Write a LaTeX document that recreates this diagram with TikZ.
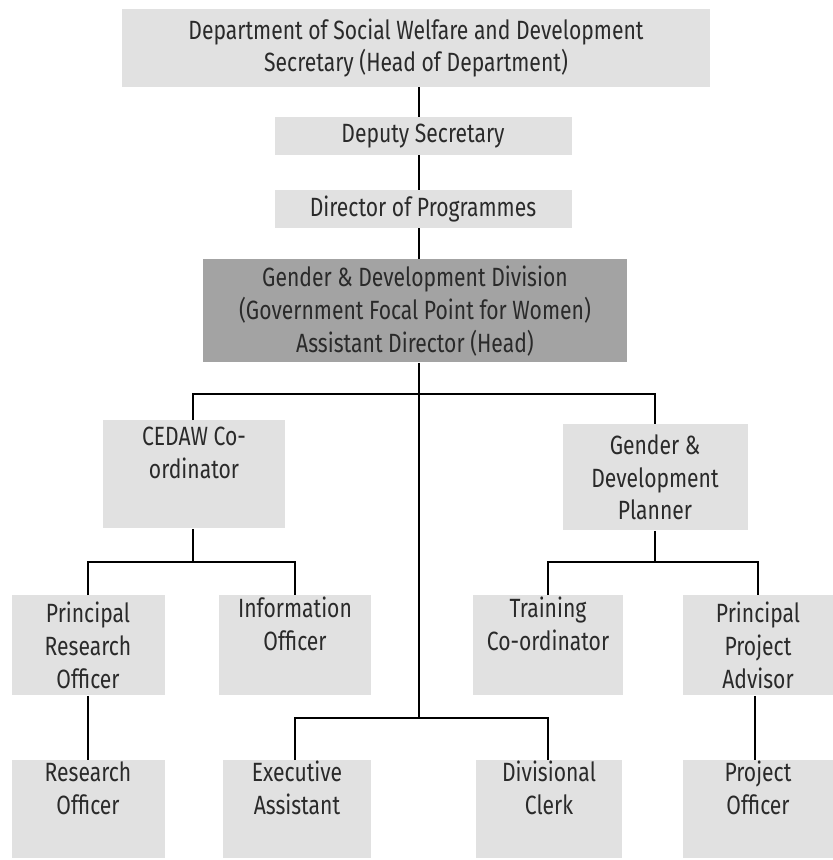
\documentclass[tikz,border=0pt]{standalone}
\usepackage{fontspec}
\setmainfont{Fira Sans}[FakeStretch=0.8]
\definecolor{boxgray}{HTML}{E1E1E1}
\definecolor{darkgray}{HTML}{A3A3A3}
\definecolor{txt}{HTML}{2A2A2A}
\begin{document}
\begin{tikzpicture}[x=0.5pt,y=-0.5pt,
  box/.style={fill=boxgray, draw=none, align=center, inner sep=0pt, text=txt,
    font=\fontsize{13.2}{16.4}\selectfont},
  dbox/.style={box, fill=darkgray},
  conn/.style={draw=black, line width=1pt}]
\useasboundingbox (0,0) rectangle (833,860);
\fill[white] (0,0) rectangle (833,860);
% nodes
\node[box, minimum width=588*0.5pt, minimum height=78*0.5pt] (top) at (416,48)
  {Department of Social Welfare and Development\\Secretary (Head of Department)};
\node[box, minimum width=297*0.5pt, minimum height=38*0.5pt] (dep) at (423,136) {Deputy Secretary};
\node[box, minimum width=297*0.5pt, minimum height=38*0.5pt] (dir) at (423,209) {Director of Programmes};
\node[dbox, minimum width=424*0.5pt, minimum height=103*0.5pt] (gdd) at (415,311)
  {Gender \& Development Division\\(Government Focal Point for Women)\\Assistant Director (Head)};
\node[box, minimum width=182*0.5pt, minimum height=108*0.5pt, anchor=north] (cedaw) at (194,420)
  {CEDAW Co-\\ordinator\\\strut};
\node[box, minimum width=185*0.5pt, minimum height=106*0.5pt, anchor=north] (plan) at (655,424)
  {Gender \&\\Development\\Planner};
\node[box, minimum width=153*0.5pt, minimum height=100*0.5pt, anchor=north] (pro) at (88,595)
  {Principal\\Research\\Officer};
\node[box, minimum width=152*0.5pt, minimum height=100*0.5pt, anchor=north] (io) at (295,595)
  {Information\\Officer\\\strut};
\node[box, minimum width=150*0.5pt, minimum height=100*0.5pt, anchor=north] (tc) at (548,595)
  {Training\\Co-ordinator\\\strut};
\node[box, minimum width=150*0.5pt, minimum height=100*0.5pt, anchor=north] (ppa) at (758,595)
  {Principal\\Project\\Advisor};
\node[box, minimum width=153*0.5pt, minimum height=98*0.5pt, anchor=north] (ro) at (88,760)
  {Research\\Officer\\\strut};
\node[box, minimum width=148*0.5pt, minimum height=98*0.5pt, anchor=north] (ea) at (297,760)
  {Executive\\Assistant\\\strut};
\node[box, minimum width=146*0.5pt, minimum height=98*0.5pt, anchor=north] (dc) at (549,760)
  {Divisional\\Clerk\\\strut};
\node[box, minimum width=150*0.5pt, minimum height=98*0.5pt, anchor=north] (po) at (758,760)
  {Project\\Officer\\\strut};
% junctions
\coordinate (j1) at (419,394);
\coordinate (j2) at (193,562);
\coordinate (j3) at (655,562);
\coordinate (j4) at (419,718);
% connectors
\draw[conn] (top.south -| j1) -- (dep.north -| j1);
\draw[conn] (dep.south -| j1) -- (dir.north -| j1);
\draw[conn] (dir.south -| j1) -- (gdd.north -| j1);
\draw[conn] (gdd.south -| j1) -- (j4);
\draw[conn] (cedaw.north -| j2) |- (j1) -| (plan.north -| j3);
\draw[conn] (cedaw.south -| j2) -- (j2);
\draw[conn] (pro.north) |- (j2) -| (io.north);
\draw[conn] (plan.south -| j3) -- (j3);
\draw[conn] (tc.north) |- (j3) -| (ppa.north);
\draw[conn] (ea.north -| 295,0) |- (j4) -| (dc.north -| 548,0);
\draw[conn] (pro.south) -- (ro.north);
\draw[conn] (ppa.south -| 755,0) -- (po.north -| 755,0);
\end{tikzpicture}
\end{document}
